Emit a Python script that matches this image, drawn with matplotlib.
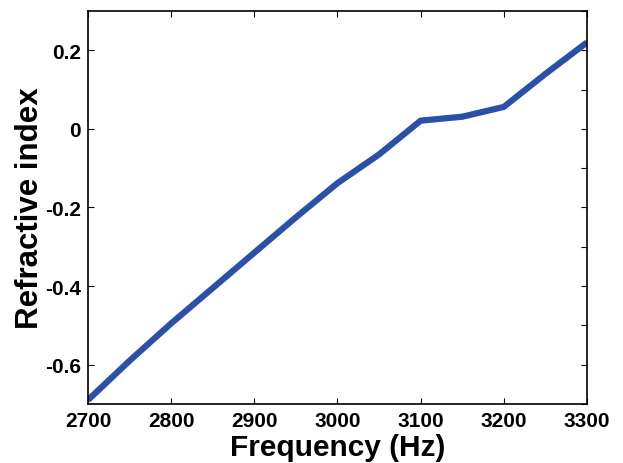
import matplotlib
matplotlib.use('Agg')
import matplotlib.pyplot as plt
from matplotlib.ticker import MultipleLocator

plt.rcParams['font.family'] = ['Liberation Sans', 'DejaVu Sans']

# данные
freq = [2700, 2750, 2800, 2850, 2900, 2950, 3000, 3050, 3100, 3150, 3200, 3250, 3300]
n_index = [-0.69, -0.59, -0.495, -0.405, -0.315, -0.225, -0.138, -0.065, 0.021, 0.031, 0.056, 0.14, 0.22]

x_ticks = [2700, 2800, 2900, 3000, 3100, 3200, 3300]
y_ticks = [-0.6, -0.4, -0.2, 0, 0.2]
y_labels = ['-0.6', '-0.4', '-0.2', '0', '0.2']

fig = plt.figure(figsize=(6.23, 4.64), dpi=100)
ax = fig.add_axes([0.1412, 0.1272, 0.801, 0.8469])

ax.plot(freq, n_index, color='#2b50a8', linewidth=4.5, solid_capstyle='butt')

ax.set_xlim(2700, 3300)
ax.set_ylim(-0.7, 0.3)
ax.set_xticks(x_ticks)
ax.set_xticklabels([str(t) for t in x_ticks])
ax.set_yticks(y_ticks)
ax.set_yticklabels(y_labels)
ax.yaxis.set_minor_locator(MultipleLocator(0.1))

ax.tick_params(which='major', direction='in', length=4, width=0.8,
               top=True, right=True, labelsize=15)
ax.tick_params(axis='x', pad=5)
ax.tick_params(axis='y', pad=5)
ax.tick_params(which='minor', direction='in', length=4, width=0.8,
               left=False, right=True)
for lbl in ax.get_xticklabels() + ax.get_yticklabels():
    lbl.set_fontweight('bold')

for sp in ax.spines.values():
    sp.set_linewidth(1.2)

ax.set_xlabel('Frequency (Hz)', fontsize=21.5, fontweight='bold', labelpad=2)
ax.set_ylabel('Refractive index', fontsize=22.5, fontweight='bold', labelpad=0)

fig.savefig('out.png', dpi=100)
plt.close(fig)
